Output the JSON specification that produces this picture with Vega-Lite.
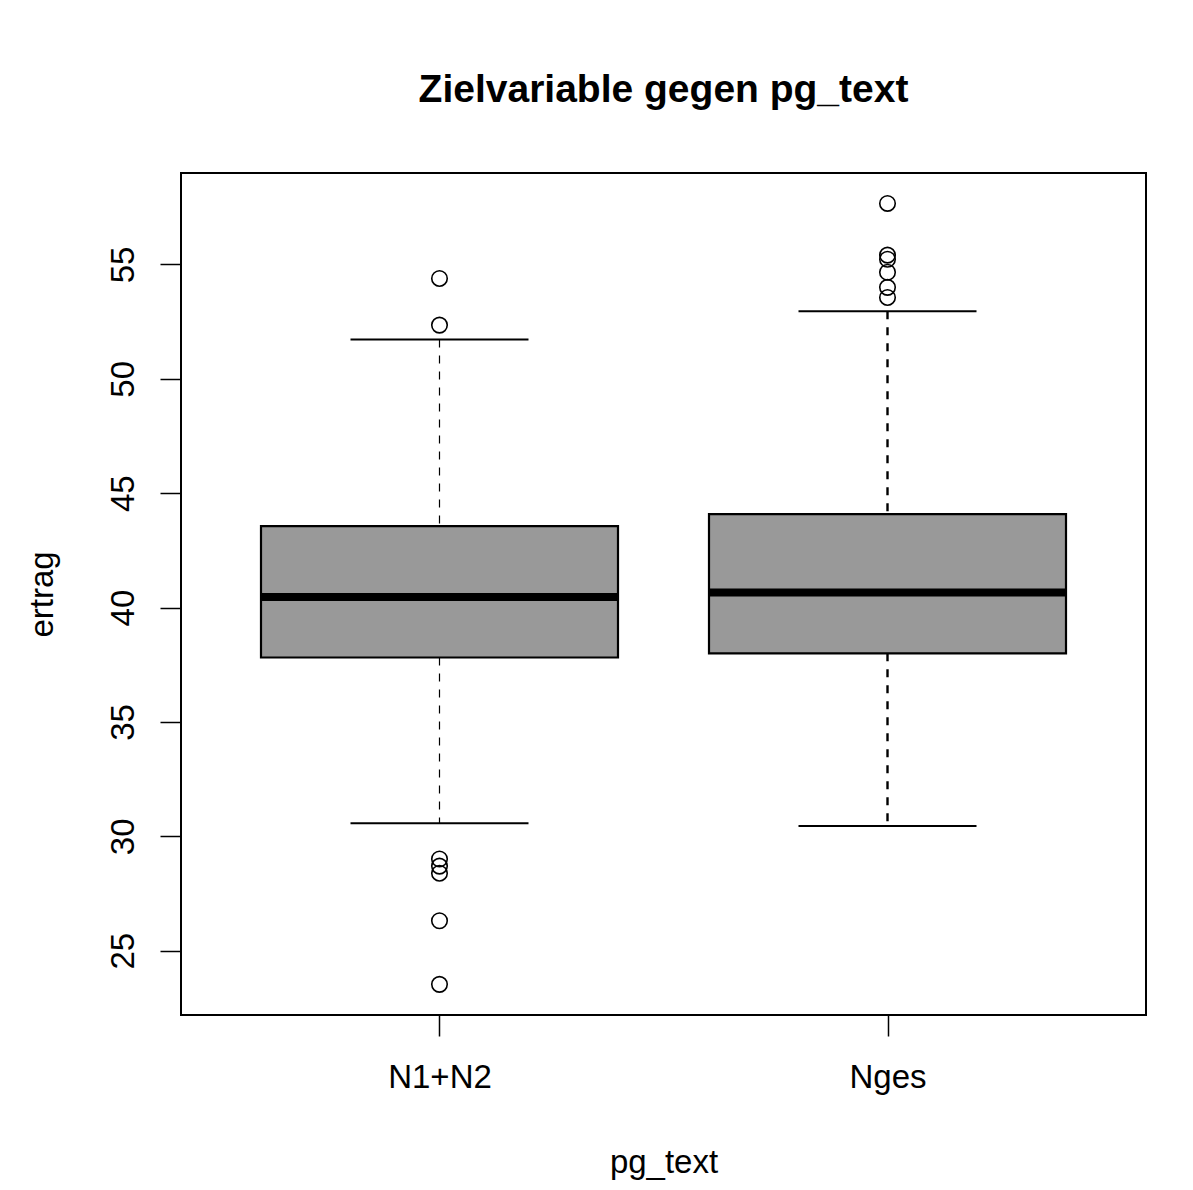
{
  "$schema": "https://vega.github.io/schema/vega-lite/v6.json",
  "autosize": "none",
  "width": 965,
  "height": 842,
  "padding": {"left": 181, "top": 173, "right": 47, "bottom": 175},
  "background": "white",
  "config": {
    "font": "Liberation Sans",
    "view": {"stroke": "black", "strokeWidth": 2},
    "axis": {"grid": false, "domain": false, "tickColor": "black", "tickWidth": 1.5, "labelColor": "black", "titleColor": "black", "labelFont": "Liberation Sans", "titleFont": "Liberation Sans", "titleFontWeight": "normal", "labelFontSize": 33, "titleFontSize": 33}
  },
  "title": {
    "text": "Zielvariable gegen pg_text",
    "fontSize": 39,
    "fontWeight": "bold",
    "font": "Liberation Sans",
    "color": "black",
    "anchor": "middle",
    "offset": 63
  },
  "datasets": {
    "boxes": [
      {"gruppe": "N1+N2", "lo": 30.57, "q1": 37.82, "med": 40.46, "q3": 43.56, "hi": 51.72},
      {"gruppe": "Nges", "lo": 30.45, "q1": 38.0, "med": 40.66, "q3": 44.09, "hi": 52.96}
    ],
    "ausreisser": [
      {"gruppe": "N1+N2", "ertrag": 54.39},
      {"gruppe": "N1+N2", "ertrag": 52.35},
      {"gruppe": "N1+N2", "ertrag": 29.01},
      {"gruppe": "N1+N2", "ertrag": 28.7},
      {"gruppe": "N1+N2", "ertrag": 28.39},
      {"gruppe": "N1+N2", "ertrag": 26.31},
      {"gruppe": "N1+N2", "ertrag": 23.53},
      {"gruppe": "Nges", "ertrag": 57.67},
      {"gruppe": "Nges", "ertrag": 55.41},
      {"gruppe": "Nges", "ertrag": 55.23},
      {"gruppe": "Nges", "ertrag": 54.66},
      {"gruppe": "Nges", "ertrag": 54.0},
      {"gruppe": "Nges", "ertrag": 53.56}
    ]
  },
  "encoding": {
    "x": {
      "field": "gruppe",
      "type": "nominal",
      "scale": {"type": "point", "padding": 0.577, "domain": ["N1+N2", "Nges"]},
      "axis": {"title": "pg_text", "labelAngle": 0, "tickSize": 21, "labelPadding": 25, "titlePadding": 52}
    }
  },
  "layer": [
    {
      "data": {"name": "boxes"},
      "mark": {"type": "rule", "strokeDash": [8, 8], "color": "black"},
      "encoding": {
        "y": {"field": "hi", "type": "quantitative", "scale": {"domain": [22.19, 59.0], "nice": false, "zero": false},
          "axis": {"title": "ertrag", "values": [25, 30, 35, 40, 45, 50, 55], "labelAngle": -90, "labelAlign": "center", "labelBaseline": "alphabetic", "tickSize": 21, "labelPadding": 27, "titlePadding": 48}},
        "y2": {"field": "q3"},
        "strokeWidth": {"condition": {"test": "datum.gruppe === 'Nges'", "value": 2.4}, "value": 1.2}
      }
    },
    {
      "data": {"name": "boxes"},
      "mark": {"type": "rule", "strokeDash": [8, 8], "color": "black"},
      "encoding": {
        "y": {"field": "q1", "type": "quantitative"},
        "y2": {"field": "lo"},
        "strokeWidth": {"condition": {"test": "datum.gruppe === 'Nges'", "value": 2.4}, "value": 1.2}
      }
    },
    {
      "data": {"name": "boxes"},
      "mark": {"type": "tick", "color": "black", "opacity": 1, "size": 178, "thickness": 2, "orient": "horizontal"},
      "encoding": {"y": {"field": "hi", "type": "quantitative"}}
    },
    {
      "data": {"name": "boxes"},
      "mark": {"type": "tick", "color": "black", "opacity": 1, "size": 178, "thickness": 2, "orient": "horizontal"},
      "encoding": {"y": {"field": "lo", "type": "quantitative"}}
    },
    {
      "data": {"name": "boxes"},
      "mark": {"type": "bar", "width": 357, "fill": "#999999", "stroke": "black", "strokeWidth": 2.2, "opacity": 1},
      "encoding": {
        "y": {"field": "q1", "type": "quantitative"},
        "y2": {"field": "q3"}
      }
    },
    {
      "data": {"name": "boxes"},
      "mark": {"type": "tick", "color": "black", "opacity": 1, "size": 357, "thickness": 8, "orient": "horizontal"},
      "encoding": {"y": {"field": "med", "type": "quantitative"}}
    },
    {
      "data": {"name": "ausreisser"},
      "mark": {"type": "point", "shape": "circle", "filled": false, "stroke": "black", "strokeWidth": 1.6, "size": 240, "opacity": 1},
      "encoding": {"y": {"field": "ertrag", "type": "quantitative"}}
    }
  ]
}
